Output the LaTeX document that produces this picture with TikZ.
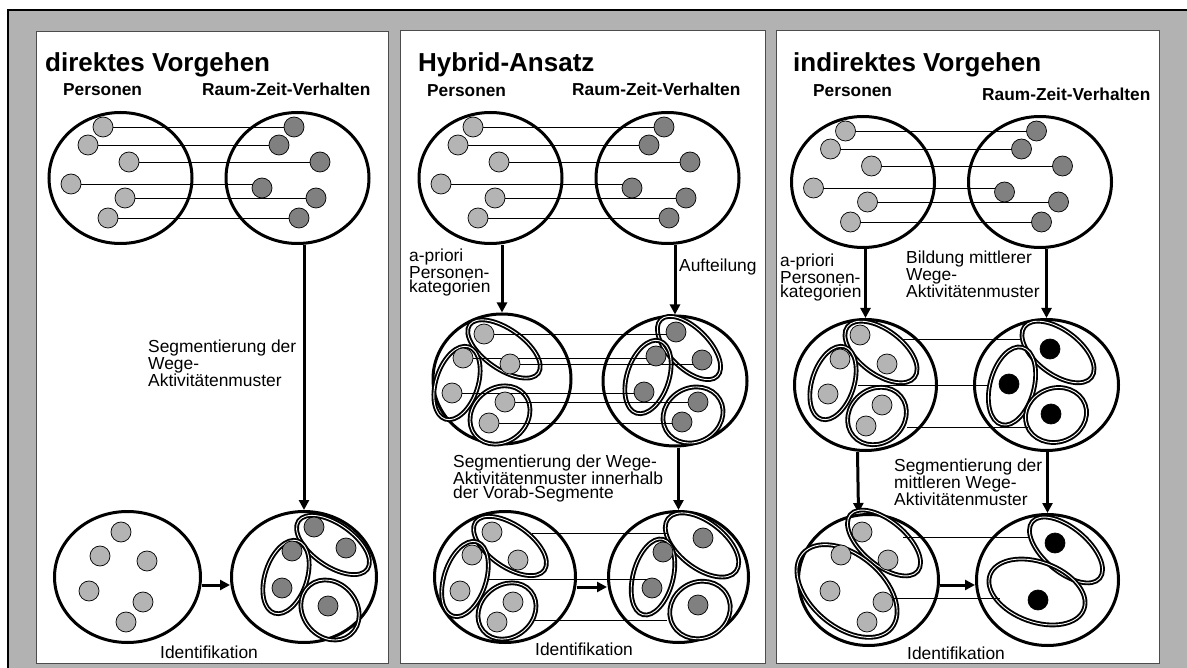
\documentclass[tikz,border=0pt]{standalone}
\usepackage{fontspec}
\setmainfont{Liberation Sans}
\usetikzlibrary{shapes.geometric, arrows.meta}
\definecolor{bggray}{RGB}{178,178,178}
\definecolor{lightdot}{RGB}{180,180,180}
\definecolor{darkdot}{RGB}{128,128,128}
\pgfdeclarelayer{front}
\pgfsetlayers{main,front}

\begin{document}
\begin{tikzpicture}[x=1pt, y=-1pt,
  panel/.style={draw=black!70, fill=white, line width=0.8pt},
  grp/.style={ellipse, draw, fill=white, line width=3pt, inner sep=0pt,
    minimum width=143pt, minimum height=131pt},
  seg/.style={ellipse, draw, double, double distance=0.9pt, line width=1.9pt, inner sep=0pt},
  pers/.style={circle, draw, line width=0.7pt, fill=lightdot, inner sep=0pt, minimum size=20pt},
  act/.style={pers, fill=darkdot},
  mean/.style={pers, fill=black},
  link/.style={line width=0.8pt},
  flow/.style={line width=3pt, -{Triangle[length=10pt, width=10pt]}},
  title/.style={anchor=base west, inner sep=0pt, font=\bfseries\fontsize{26}{30}\selectfont},
  head/.style={anchor=base west, inner sep=0pt, font=\bfseries\fontsize{17.3}{20}\selectfont},
  note/.style={anchor=base west, inner sep=0pt, align=left, font=\fontsize{17.4}{14.3}\selectfont}]
  \useasboundingbox (0,0) rectangle (1187,668);
  \clip (0,0) rectangle (1187,668);
  % Rahmen und drei Felder
  \draw[line width=1.5pt, fill=bggray] (8,10) rectangle (1200,690);
  \draw[panel] (36,31) rectangle (388,663);
  \draw[panel] (400,30) rectangle (765,663);
  \draw[panel] (776,30) rectangle (1159,663);
  \node[title] (t1) at (45,72) {direktes Vorgehen};
  \node[title] (t2) at (418,72) {Hybrid-Ansatz};
  \node[title] (t3) at (793,72) {indirektes Vorgehen};
  \node[head] (h11) at (63,96) {Personen};
  \node[head] (h12) at (202,96) {Raum-Zeit-Verhalten};
  \node[head] (h21) at (427,97) {Personen};
  \node[head] (h22) at (572,96) {Raum-Zeit-Verhalten};
  \node[head] (h31) at (813,97) {Personen};
  \node[head] (h32) at (982,101) {Raum-Zeit-Verhalten};

  % ---- direktes Vorgehen ----
  \node[grp] (P1) at (120.5,178) {};
  \node[grp] (V1) at (297.5,178) {};
  \begin{pgfonlayer}{front}
    \node[pers] (p11) at (103,127) {};
    \node[pers] (p12) at (88,145) {};
    \node[pers] (p13) at (129,162) {};
    \node[pers] (p14) at (71,184) {};
    \node[pers] (p15) at (125,198) {};
    \node[pers] (p16) at (108,218) {};
    \node[act] (v11) at (294,127) {};
    \node[act] (v12) at (279,145) {};
    \node[act] (v13) at (320,162) {};
    \node[act] (v14) at (262,188) {};
    \node[act] (v15) at (316,198) {};
    \node[act] (v16) at (299,218) {};
  \end{pgfonlayer}
  \draw[link] (p11) -- (p11 -| v11);
  \draw[link] (p12) -- (p12 -| v12);
  \draw[link] (p13) -- (p13 -| v13);
  \draw[link] (p14) -- (p14 -| v14);
  \draw[link] (p15) -- (p15 -| v15);
  \draw[link] (p16) -- (p16 -| v16);
  \node[grp, minimum width=146pt] (PS1) at (127.5,577) {};
  \node[grp, minimum width=145pt] (VS1) at (304,577) {};
  \draw[flow] (VS1.north |- V1.south) -- (VS1.north);
  % base = letzte Zeile
  \node[note] (n1) at (148,386.6) {Segmentierung der\\Wege-\\Aktivitätenmuster};
  \node[seg, minimum width=84pt, minimum height=42pt, rotate=-35] (s11) at (333,545) {};
  \node[seg, minimum width=76pt, minimum height=42pt, rotate=72] (s12) at (286,577) {};
  \node[seg, minimum width=64pt, minimum height=54pt, rotate=-50] (s13) at (330,610) {};
  \begin{pgfonlayer}{front}
    \node[pers] (q11) at (121,532) {};
    \node[pers] (q12) at (100,556) {};
    \node[pers] (q13) at (147,561) {};
    \node[pers] (q14) at (89,591) {};
    \node[pers] (q15) at (143,602) {};
    \node[pers] (q16) at (126,622) {};
    \node[act] (w11) at (314,527) {};
    \node[act] (w12) at (346,548) {};
    \node[act] (w13) at (292,551) {};
    \node[act] (w14) at (282,588) {};
    \node[act] (w15) at (328,606) {};
  \end{pgfonlayer}
  \draw[flow] ([yshift=-8pt]PS1.east) -- ([yshift=-8pt]VS1.west);
  \node[note] (i1) at (160,658) {Identifikation};

  % ---- Hybrid-Ansatz ----
  \node[grp] (P2) at (490.5,178) {};
  \node[grp] (V2) at (667.5,178) {};
  \begin{pgfonlayer}{front}
    \node[pers] (p21) at (473,127) {};
    \node[pers] (p22) at (458,145) {};
    \node[pers] (p23) at (499,162) {};
    \node[pers] (p24) at (441,184) {};
    \node[pers] (p25) at (495,198) {};
    \node[pers] (p26) at (478,218) {};
    \node[act] (v21) at (664,127) {};
    \node[act] (v22) at (649,145) {};
    \node[act] (v23) at (690,162) {};
    \node[act] (v24) at (632,188) {};
    \node[act] (v25) at (686,198) {};
    \node[act] (v26) at (669,218) {};
  \end{pgfonlayer}
  \draw[link] (p21) -- (p21 -| v21);
  \draw[link] (p22) -- (p22 -| v22);
  \draw[link] (p23) -- (p23 -| v23);
  \draw[link] (p24) -- (p24 -| v24);
  \draw[link] (p25) -- (p25 -| v25);
  \draw[link] (p26) -- (p26 -| v26);
  \node[grp, minimum width=138pt, minimum height=130pt] (PK2) at (502,379) {};
  \node[grp, minimum width=144pt, minimum height=130pt] (VK2) at (675,381) {};
  \draw[flow] (PK2.north |- P2.south) -- (PK2.north);
  \draw[flow] (VK2.north |- V2.south) -- (VK2.north);
  \node[note] (n21) at (409,292.6) {a-priori\\Personen-\\kategorien};
  \node[note] (n22) at (679,272) {Aufteilung};
  \node[seg, minimum width=84pt, minimum height=40pt, rotate=-35] (k21) at (504,349) {};
  \node[seg, minimum width=76pt, minimum height=42pt, rotate=72] (k22) at (457,383) {};
  \node[seg, minimum width=64pt, minimum height=54pt, rotate=40] (k23) at (500,415) {};
  \node[seg, minimum width=80pt, minimum height=40pt, rotate=-45] (l21) at (689,348) {};
  \node[seg, minimum width=76pt, minimum height=42pt, rotate=72] (l22) at (648,377) {};
  \node[seg, minimum width=62pt, minimum height=54pt, rotate=30] (l23) at (693,415) {};
  \begin{pgfonlayer}{front}
    \node[pers] (m21) at (484,334) {};
    \node[pers] (m22) at (463,358) {};
    \node[pers] (m23) at (510,364) {};
    \node[pers] (m24) at (452,393) {};
    \node[pers] (m25) at (505,402) {};
    \node[pers] (m26) at (489,423) {};
    \node[act] (n21d) at (676,332) {};
    \node[act] (n22d) at (656,356) {};
    \node[act] (n23d) at (702,360) {};
    \node[act] (n24d) at (644,392) {};
    \node[act] (n25d) at (698,402) {};
    \node[act] (n26d) at (682,422) {};
  \end{pgfonlayer}
  \draw[link] (m21) -- (m21 -| n21d);
  \draw[link] (m22) -- (m22 -| n22d);
  \draw[link] (m23) -- (m23 -| n23d);
  \draw[link] (m24) -- (m24 -| n24d);
  \draw[link] (m25) -- (m25 -| n25d);
  \draw[link] (m26) -- (m26 -| n26d);
  \node[grp, minimum width=141pt] (PS2) at (505,577) {};
  \node[grp, minimum width=140pt] (VS2) at (678.5,577) {};
  \draw[flow] (VS2.north |- VK2.south) -- (VS2.north);
  \node[note] (n23) at (453,498.6) {Segmentierung der Wege-\\Aktivitätenmuster innerhalb\\der Vorab-Segmente};
  \node[seg, minimum width=84pt, minimum height=42pt, rotate=-35] (s21) at (510,546) {};
  \node[seg, minimum width=78pt, minimum height=42pt, rotate=72] (s22) at (465,579) {};
  \node[seg, minimum width=62pt, minimum height=52pt, rotate=40] (s23) at (507,611) {};
  \node[seg, minimum width=86pt, minimum height=46pt, rotate=-38] (t21) at (702,545) {};
  \node[seg, minimum width=78pt, minimum height=40pt, rotate=75] (t22) at (653,577) {};
  \node[seg, minimum width=62pt, minimum height=56pt, rotate=30] (t23) at (700,610) {};
  \begin{pgfonlayer}{front}
    \node[pers] (q21) at (492,532) {};
    \node[pers] (q22) at (472,555) {};
    \node[pers] (q23) at (518,560) {};
    \node[pers] (q24) at (460,591) {};
    \node[pers] (q25) at (513,602) {};
    \node[pers] (q26) at (497,622) {};
    \node[act] (w21) at (703,538) {};
    \node[act] (w22) at (663,552) {};
    \node[act] (w23) at (652,588) {};
    \node[act] (w24) at (698,605) {};
  \end{pgfonlayer}
  \coordinate (a21) at (532,533);
  \coordinate (b21) at (668,533);
  \coordinate (a22) at (487,579);
  \coordinate (b22) at (647,579);
  \coordinate (a23) at (535,620);
  \coordinate (b23) at (667,620);
  \draw[link] (a21) -- (b21);
  \draw[link] (a22) -- (b22);
  \draw[link] (a23) -- (b23);
  \draw[flow] ([yshift=-10pt]PS2.east) -- ([yshift=-10pt]VS2.west);
  \node[note] (i2) at (535,655) {Identifikation};

  % ---- indirektes Vorgehen ----
  \node[grp] (P3) at (863,182) {};
  \node[grp] (V3) at (1040,182) {};
  \begin{pgfonlayer}{front}
    \node[pers] (p31) at (845.5,131) {};
    \node[pers] (p32) at (830.5,149) {};
    \node[pers] (p33) at (871.5,166) {};
    \node[pers] (p34) at (813.5,188) {};
    \node[pers] (p35) at (867.5,202) {};
    \node[pers] (p36) at (850.5,222) {};
    \node[act] (v31) at (1036.5,131) {};
    \node[act] (v32) at (1021.5,149) {};
    \node[act] (v33) at (1062.5,166) {};
    \node[act] (v34) at (1004.5,192) {};
    \node[act] (v35) at (1058.5,202) {};
    \node[act] (v36) at (1041.5,222) {};
  \end{pgfonlayer}
  \draw[link] (p31) -- (p31 -| v31);
  \draw[link] (p32) -- (p32 -| v32);
  \draw[link] (p33) -- (p33 -| v33);
  \draw[link] (p34) -- (p34 -| v34);
  \draw[link] (p35) -- (p35 -| v35);
  \draw[link] (p36) -- (p36 -| v36);
  \node[grp, minimum width=142pt] (PK3) at (865.5,385) {};
  \node[grp, minimum width=144pt] (VK3) at (1046.5,385) {};
  \draw[flow] (PK3.north |- P3.south) -- (PK3.north);
  \draw[flow] (VK3.north |- V3.south) -- (VK3.north);
  \node[note] (n31) at (780,297.6) {a-priori\\Personen-\\kategorien};
  \node[note] (n32) at (906,297.6) {Bildung mittlerer\\Wege-\\Aktivitätenmuster};
  \node[seg, minimum width=84pt, minimum height=44pt, rotate=-37] (k31) at (881,352) {};
  \node[seg, minimum width=76pt, minimum height=42pt, rotate=72] (k32) at (833,383) {};
  \node[seg, minimum width=62pt, minimum height=54pt, rotate=40] (k33) at (877,416) {};
  \node[seg, minimum width=84pt, minimum height=44pt, rotate=-37] (l31) at (1058,352) {};
  \node[seg, minimum width=80pt, minimum height=44pt, rotate=75] (l32) at (1012,386) {};
  \node[seg, minimum width=62pt, minimum height=54pt, rotate=20] (l33) at (1056,415) {};
  \begin{pgfonlayer}{front}
    \node[pers] (m31) at (860,335) {};
    \node[pers] (m32) at (840,359) {};
    \node[pers] (m33) at (887,364) {};
    \node[pers] (m34) at (828,394) {};
    \node[pers] (m35) at (882,405) {};
    \node[pers] (m36) at (866,426) {};
    \node[mean] (n31d) at (1050,349) {};
    \node[mean] (n32d) at (1009,384) {};
    \node[mean] (n33d) at (1051,414) {};
  \end{pgfonlayer}
  \coordinate (a31) at (903,339);
  \coordinate (b31) at (1020,339);
  \coordinate (a32) at (858,385);
  \coordinate (b32) at (987,385);
  \coordinate (a33) at (907,427);
  \coordinate (b33) at (1028,427);
  \draw[link] (a31) -- (b31);
  \draw[link] (a32) -- (b32);
  \draw[link] (a33) -- (b33);
  \node[grp, minimum width=140pt] (PS3) at (868.5,580) {};
  \node[grp, minimum width=142pt] (VS3) at (1047.5,580) {};
  \draw[flow] ([xshift=-8pt]PK3.south) -- ([xshift=-10pt]PS3.north);
  \draw[flow] (VS3.north |- VK3.south) -- (VS3.north);
  \node[note] (n33) at (894,505.6) {Segmentierung der\\mittleren Wege-\\Aktivitätenmuster};
  \node[seg, minimum width=88pt, minimum height=44pt, rotate=-40] (s31) at (884,543) {};
  \node[seg, minimum width=116pt, minimum height=72pt, rotate=-40] (s32) at (847,591) {};
  \node[seg, minimum width=88pt, minimum height=44pt, rotate=-40] (t31) at (1066,550) {};
  \node[seg, minimum width=100pt, minimum height=60pt, rotate=-20] (t32) at (1037,592) {};
  \begin{pgfonlayer}{front}
    \node[pers] (q31) at (862,532) {};
    \node[pers] (q32) at (841,555) {};
    \node[pers] (q33) at (888,560) {};
    \node[pers] (q34) at (830,591) {};
    \node[pers] (q35) at (883,602) {};
    \node[pers] (q36) at (867,622) {};
    \node[mean] (w31) at (1055,543) {};
    \node[mean] (w32) at (1038,600) {};
  \end{pgfonlayer}
  \coordinate (a34) at (903,537);
  \coordinate (b34) at (1030,537);
  \coordinate (a35) at (893,598);
  \coordinate (b35) at (1000,598);
  \draw[link] (a34) -- (b34);
  \draw[link] (a35) -- (b35);
  \draw[flow] ([yshift=-5pt]PS3.east) -- ([yshift=-5pt]VS3.west);
  \node[note] (i3) at (907,659) {Identifikation};
\end{tikzpicture}
\end{document}
